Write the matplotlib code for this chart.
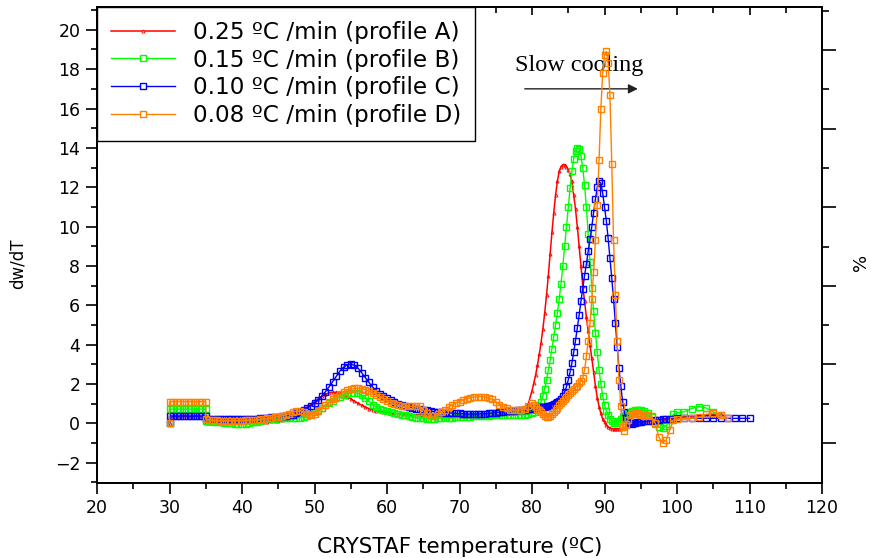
import numpy as np
import matplotlib
matplotlib.use("Agg")
import matplotlib.pyplot as plt
from matplotlib.ticker import MultipleLocator, FixedLocator, NullFormatter

# ---------------- data ----------------
# temperature sampling grids (degC)
T_plateau = [30.0, 30.0, 30.5, 31.0, 31.5, 32.0, 32.5, 33.0, 33.5, 34.0, 34.5, 35.0]
T_main = np.arange(35.0, 80.001, 0.5)      # 91 samples
T_peak = np.arange(80.25, 95.001, 0.25)    # 60 samples
T_tail1 = np.arange(95.5, 100.001, 0.5)    # 10 samples
T_tail2 = [101, 102, 103, 104, 105, 106, 107, 108, 109, 110]

# profile A : 0.25 C/min (red)
A_plateau = [0.0, 0.35, 0.35, 0.35, 0.35, 0.35, 0.35, 0.35, 0.35, 0.35, 0.35, 0.35]
A_main = [0.00, 0.00, 0.00, 0.01, 0.02, 0.03, 0.04, 0.05, 0.05, 0.06,
          0.06, 0.06, 0.07, 0.07, 0.07, 0.08, 0.08, 0.09, 0.10, 0.12,
          0.14, 0.17, 0.21, 0.26, 0.33, 0.42, 0.53, 0.67, 0.82, 0.96,
          1.10, 1.24, 1.37, 1.48, 1.55, 1.58, 1.57, 1.52, 1.44, 1.35,
          1.24, 1.13, 1.02, 0.92, 0.83, 0.75, 0.69, 0.64, 0.60, 0.57,
          0.55, 0.53, 0.51, 0.49, 0.47, 0.46, 0.45, 0.44, 0.43, 0.42,
          0.41, 0.40, 0.40, 0.39, 0.39, 0.38, 0.38, 0.38, 0.38, 0.38,
          0.38, 0.38, 0.38, 0.38, 0.39, 0.39, 0.40, 0.40, 0.41, 0.42,
          0.43, 0.44, 0.46, 0.48, 0.50, 0.53, 0.57, 0.63, 0.72, 1.00,
          1.65]
A_peak = [2.05, 2.45, 2.95, 3.50, 4.10, 4.80, 5.60, 6.50, 7.50, 8.60,
          9.70, 10.70, 11.60, 12.30, 12.80, 13.05, 13.15, 13.15, 13.05, 12.90,
          12.65, 12.30, 11.60, 10.90, 10.00, 9.00, 8.00, 7.00, 6.20, 5.40,
          4.70, 4.00, 3.30, 2.60, 1.90, 1.30, 0.85, 0.50, 0.22, 0.05,
          -0.08, -0.18, -0.24, -0.27, -0.28, -0.28, -0.28, -0.28, -0.27, -0.25,
          -0.22, -0.18, -0.14, -0.10, -0.07, -0.04, -0.02, 0.00, 0.02, 0.04]
A_tail1 = [0.06, 0.08, 0.11, 0.14, 0.17, 0.20, 0.23, 0.26, 0.29, 0.31]
A_tail2 = [0.34, 0.37, 0.40, 0.42, 0.44, 0.45]

# profile B : 0.15 C/min (green)
B_plateau = [0.0, 0.72, 0.72, 0.72, 0.72, 0.72, 0.72, 0.72, 0.72, 0.72, 0.72, 0.72]
B_main = [0.12, 0.10, 0.08, 0.06, 0.04, 0.02, 0.01, 0.00, -0.02, -0.03,
          -0.04, -0.03, 0.00, 0.04, 0.08, 0.12, 0.16, 0.20, 0.22, 0.24,
          0.25, 0.25, 0.25, 0.25, 0.25, 0.26, 0.28, 0.32, 0.38, 0.46,
          0.56, 0.67, 0.80, 0.92, 1.04, 1.15, 1.26, 1.36, 1.44, 1.50,
          1.55, 1.56, 1.52, 1.43, 1.30, 1.12, 0.95, 0.82, 0.72, 0.66,
          0.62, 0.58, 0.53, 0.48, 0.44, 0.40, 0.36, 0.32, 0.29, 0.26,
          0.25, 0.24, 0.24, 0.24, 0.25, 0.26, 0.27, 0.28, 0.29, 0.30,
          0.31, 0.32, 0.33, 0.34, 0.35, 0.36, 0.37, 0.38, 0.39, 0.40,
          0.41, 0.41, 0.42, 0.42, 0.42, 0.42, 0.42, 0.42, 0.43, 0.46,
          0.52]
B_peak = [0.58, 0.65, 0.76, 0.90, 1.10, 1.40, 1.75, 2.20, 2.70, 3.20,
          3.80, 4.40, 5.00, 5.60, 6.30, 7.10, 8.00, 9.00, 10.00, 11.00,
          11.95, 12.80, 13.45, 13.85, 14.00, 13.95, 13.60, 13.00, 12.10, 11.00,
          9.60, 8.20, 6.90, 5.70, 4.60, 3.60, 2.70, 2.00, 1.40, 0.95,
          0.62, 0.40, 0.22, 0.10, 0.03, 0.00, 0.02, 0.10, 0.20, 0.30,
          0.38, 0.44, 0.50, 0.55, 0.60, 0.63, 0.66, 0.68, 0.68, 0.67]
B_tail1 = [0.63, 0.52, 0.30, -0.05, -0.20, -0.26, -0.15, 0.15, 0.45, 0.55]
B_tail2 = [0.58, 0.75, 0.85, 0.78, 0.58, 0.42]

# profile C : 0.10 C/min (blue)
C_plateau = [0.0, 0.37, 0.37, 0.37, 0.37, 0.37, 0.37, 0.37, 0.37, 0.37, 0.37, 0.37]
C_main = [0.20, 0.22, 0.22, 0.21, 0.20, 0.20, 0.20, 0.20, 0.20, 0.20,
          0.20, 0.21, 0.22, 0.23, 0.24, 0.25, 0.27, 0.28, 0.30, 0.31,
          0.33, 0.35, 0.37, 0.40, 0.44, 0.50, 0.57, 0.66, 0.77, 0.90,
          1.04, 1.20, 1.38, 1.60, 1.85, 2.12, 2.40, 2.65, 2.85, 2.97,
          3.00, 2.95, 2.80, 2.58, 2.32, 2.08, 1.85, 1.66, 1.50, 1.37,
          1.26, 1.16, 1.07, 1.00, 0.94, 0.88, 0.83, 0.79, 0.75, 0.72,
          0.68, 0.65, 0.62, 0.59, 0.57, 0.55, 0.54, 0.53, 0.52, 0.51,
          0.50, 0.49, 0.48, 0.47, 0.47, 0.47, 0.48, 0.49, 0.50, 0.52,
          0.54, 0.56, 0.58, 0.60, 0.62, 0.64, 0.66, 0.68, 0.70, 0.72,
          0.75]
C_peak = [0.77, 0.78, 0.80, 0.81, 0.82, 0.83, 0.84, 0.86, 0.88, 0.90,
          0.93, 0.97, 1.02, 1.08, 1.15, 1.25, 1.40, 1.60, 1.85, 2.20,
          2.60, 3.05, 3.60, 4.20, 4.85, 5.50, 6.20, 6.85, 7.50, 8.10,
          8.75, 9.35, 10.00, 10.70, 11.40, 12.00, 12.30, 12.20, 11.70, 11.00,
          10.30, 9.40, 8.40, 7.40, 6.30, 5.10, 3.90, 2.80, 1.90, 1.10,
          0.55, 0.25, 0.08, 0.00, -0.02, 0.00, 0.02, 0.04, 0.06, 0.08]
C_tail1 = [0.10, 0.12, 0.14, 0.16, 0.18, 0.20, 0.22, 0.23, 0.24, 0.25]
C_tail2 = [0.25, 0.25, 0.25, 0.25, 0.25, 0.25, 0.25, 0.25, 0.25, 0.25]

# profile D : 0.08 C/min (orange)
D_plateau = [0.0, 1.10, 1.10, 1.10, 1.10, 1.10, 1.10, 1.10, 1.10, 1.10, 1.10, 1.10]
D_main = [0.20, 0.18, 0.16, 0.15, 0.14, 0.13, 0.13, 0.13, 0.13, 0.14,
          0.14, 0.15, 0.16, 0.17, 0.19, 0.21, 0.23, 0.25, 0.28, 0.31,
          0.34, 0.38, 0.42, 0.48, 0.55, 0.62, 0.64, 0.58, 0.47, 0.42,
          0.48, 0.60, 0.76, 0.92, 1.08, 1.22, 1.35, 1.47, 1.58, 1.67,
          1.73, 1.77, 1.78, 1.76, 1.71, 1.63, 1.55, 1.46, 1.36, 1.24,
          1.13, 1.04, 0.97, 0.92, 0.89, 0.87, 0.86, 0.86, 0.88, 0.88,
          0.70, 0.52, 0.38, 0.36, 0.45, 0.58, 0.70, 0.82, 0.93, 1.03,
          1.10, 1.18, 1.25, 1.30, 1.34, 1.36, 1.36, 1.33, 1.28, 1.21,
          1.10, 0.95, 0.84, 0.76, 0.70, 0.67, 0.66, 0.67, 0.75, 0.90,
          1.02]
D_peak = [0.95, 0.85, 0.75, 0.66, 0.56, 0.45, 0.36, 0.30, 0.30, 0.36,
          0.45, 0.56, 0.68, 0.80, 0.92, 1.02, 1.12, 1.22, 1.32, 1.42,
          1.52, 1.62, 1.72, 1.82, 1.92, 2.03, 2.15, 2.30, 2.70, 3.40,
          4.20, 5.10, 6.30, 7.70, 9.30, 11.10, 13.40, 16.00, 17.80, 18.70,
          18.90, 18.30, 16.70, 13.20, 9.30, 6.50, 4.20, 2.20, 0.90, -0.20,
          -0.38, -0.05, 0.18, 0.40, 0.46, 0.50, 0.51, 0.51, 0.48, 0.42]
D_tail1 = [0.35, 0.40, 0.35, 0.00, -0.70, -1.00, -0.85, -0.35, 0.15, 0.22]
D_tail2 = [0.25, 0.25, 0.30, 0.45, 0.52, 0.40, 0.25]

labels = ["0.25 ºC /min (profile A)", "0.15 ºC /min (profile B)",
          "0.10 ºC /min (profile C)", "0.08 ºC /min (profile D)"]
colors = ["#ff0000", "#00ff00", "#0000ff", "#ff8000"]

x_ticks = [20, 30, 40, 50, 60, 70, 80, 90, 100, 110, 120]
y_ticks = [-2, 0, 2, 4, 6, 8, 10, 12, 14, 16, 18, 20]


def series(plateau, main, peak, tail1, tail2):
    x = list(T_plateau) + list(T_main) + list(T_peak) + list(T_tail1) + list(T_tail2[:len(tail2)])
    y = list(plateau) + list(main) + list(peak) + list(tail1) + list(tail2)
    return x, y


curves = [series(A_plateau, A_main, A_peak, A_tail1, A_tail2),
          series(B_plateau, B_main, B_peak, B_tail1, B_tail2),
          series(C_plateau, C_main, C_peak, C_tail1, C_tail2),
          series(D_plateau, D_main, D_peak, D_tail1, D_tail2)]

# ---------------- figure ----------------
plt.rcParams['font.family'] = ['DejaVu Sans']
fig = plt.figure(figsize=(8.72, 5.58), dpi=100)
ax = fig.add_axes([97 / 872, 1 - 482.7 / 558, 725 / 872, 475.7 / 558])

for i, (x, y) in enumerate(curves):
    if i == 0:
        ax.plot(x, y, color=colors[i], lw=1.1, marker='^', ms=2.2,
                mfc='none', mec=colors[i], mew=0.6, label=labels[i], zorder=2 + i)
    else:
        ax.plot(x, y, color=colors[i], lw=1.0, marker='s', ms=4.4,
                mfc='none', mec=colors[i], mew=1.0, label=labels[i], zorder=2 + i)

ax.set_xlim(20, 120)
ax.set_ylim(-3.02, 21.16)
ax.xaxis.set_major_locator(FixedLocator(x_ticks))
ax.xaxis.set_minor_locator(MultipleLocator(5))
ax.yaxis.set_major_locator(FixedLocator(y_ticks))
ax.yaxis.set_minor_locator(MultipleLocator(1))

ax.tick_params(axis='both', which='major', direction='out', length=8, width=1.2,
               labelsize=12.5, pad=4)
ax.tick_params(axis='both', which='minor', direction='out', length=4, width=1.2)
ax.tick_params(axis='x', which='both', top=True)
for sp in ax.spines.values():
    sp.set_linewidth(1.3)

# top ticks point inward
for t in ax.xaxis.get_major_ticks() + ax.xaxis.get_minor_ticks():
    t.tick2line.set_marker(3)  # TICKDOWN
for t in ax.xaxis.get_major_ticks():
    t.tick2line.set_markersize(6)
for t in ax.xaxis.get_minor_ticks():
    t.tick2line.set_markersize(4)

ax.set_xlabel("CRYSTAF temperature (ºC)", fontsize=15.5, labelpad=14)
ax.set_ylabel("dw/dT", fontsize=12)
ax.yaxis.set_label_coords(-0.097, 0.46)

# right percentage axis
ax2 = ax.twinx()
ax2.set_ylim(-10.1, 111)
ax2.yaxis.set_major_locator(FixedLocator([0, 20, 40, 60, 80, 100]))
ax2.yaxis.set_minor_locator(FixedLocator([10, 30, 50, 70, 90, 110]))
ax2.yaxis.set_major_formatter(NullFormatter())
ax2.tick_params(axis='y', which='major', direction='out', length=10, width=1.2)
ax2.tick_params(axis='y', which='minor', direction='out', length=5, width=1.2)
ax2.set_ylabel("%", fontsize=13)
ax2.yaxis.set_label_coords(1.041, 0.464)
for sp in ax2.spines.values():
    sp.set_linewidth(1.3)

leg = ax.legend(loc='upper left', bbox_to_anchor=(0, 1), borderaxespad=0,
                fontsize=16.7, numpoints=1, handlelength=2.75, handletextpad=0.8,
                labelspacing=0.2, borderpad=0.6, frameon=True, fancybox=False,
                edgecolor='black', framealpha=1)
leg.get_frame().set_linewidth(1.0)
leg.set_zorder(10)
for h in leg.legend_handles:
    h.set_markerfacecolor('white')

ax.text(77.66, 17.9, "Slow cooling", family='Liberation Serif', fontsize=17.5,
        ha='left', va='baseline', zorder=1)
ax.annotate("", xy=(94.6, 17.0), xytext=(79.0, 17.0),
            arrowprops=dict(arrowstyle='-|>', color='#222222', lw=1.0,
                            mutation_scale=14, shrinkA=0, shrinkB=0), zorder=1)

fig.savefig("out.png", dpi=100)
